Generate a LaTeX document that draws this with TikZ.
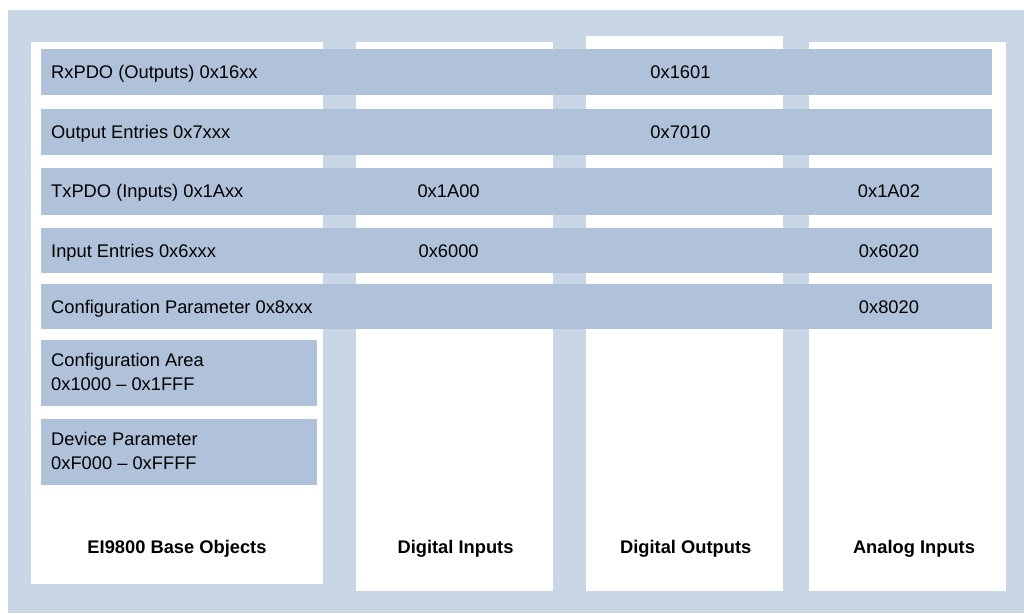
\documentclass[tikz,border=0pt]{standalone}
\usepackage{fontspec}
\setmainfont{Liberation Sans}
\definecolor{frameblue}{HTML}{C9D6E5}
\definecolor{barblue}{HTML}{AFC2DA}
\begin{document}
\begin{tikzpicture}[x=1pt,y=-1pt,
  txt/.style={inner sep=0pt,font=\fontsize{18.3}{23.3}\selectfont,text=black},
  bold/.style={txt,font=\fontsize{18.3}{23.3}\selectfont\bfseries},
  bar/.style={fill=barblue},
  col/.style={fill=white}]
\useasboundingbox (0,0) rectangle (1024,613);
\fill[white] (0,0) rectangle (1024,613);
\fill[frameblue] (8,10) rectangle (1024,613);
% columns
\fill[col] (31,42) rectangle (323,584);
\fill[col] (356,42) rectangle (553,591);
\fill[col] (586,36) rectangle (783,591);
\fill[col] (809,42) rectangle (1006,591);
% bars
\fill[bar] (41,49) rectangle (992,95);
\fill[bar] (41,108.7) rectangle (992,154.7);
\fill[bar] (41,168) rectangle (992,214.7);
\fill[bar] (41,227.7) rectangle (992,273.3);
\fill[bar] (41,284) rectangle (992,329.3);
\fill[bar] (41,340) rectangle (317,405.7);
\fill[bar] (41,419) rectangle (317,484.7);
% labels
\node[txt,anchor=base west] (rx) at (51,78.6) {RxPDO (Outputs) 0x16xx};
\node[txt,anchor=base west] (oe) at (51,138.3) {Output Entries 0x7xxx};
\node[txt,anchor=base west] (tx) at (51,197.6) {TxPDO (Inputs) 0x1Axx};
\node[txt,anchor=base west] (ie) at (51,257.1) {Input Entries 0x6xxx};
\node[txt,anchor=base west] (cp) at (51,313.3) {Configuration Parameter 0x8xxx};
\node[txt,anchor=base west] (ca1) at (51,366.7) {Configuration Area};
\node[txt,anchor=base west] (ca2) at (51,390) {0x1000 -- 0x1FFF};
\node[txt,anchor=base west] (dp1) at (51,445.7) {Device Parameter};
\node[txt,anchor=base west] (dp2) at (51,469) {0xF000 -- 0xFFFF};
% hex
\node[txt,anchor=base] (h1601) at (680.5,78.6) {0x1601};
\node[txt,anchor=base] (h7010) at (680.5,138.3) {0x7010};
\node[txt,anchor=base] (h1a00) at (448.6,197.6) {0x1A00};
\node[txt,anchor=base] (h6000) at (448.6,257.1) {0x6000};
\node[txt,anchor=base] (h1a02) at (889,197.6) {0x1A02};
\node[txt,anchor=base] (h6020) at (889,257.1) {0x6020};
\node[txt,anchor=base] (h8020) at (889,313.3) {0x8020};
% column titles
\node[bold,anchor=base] (t1) at (177,553) {EI9800 Base Objects};
\node[bold,anchor=base] (t2) at (455.5,553) {Digital Inputs};
\node[bold,anchor=base] (t3) at (685.7,553) {Digital Outputs};
\node[bold,anchor=base] (t4) at (914,553) {Analog Inputs};
\end{tikzpicture}
\end{document}
